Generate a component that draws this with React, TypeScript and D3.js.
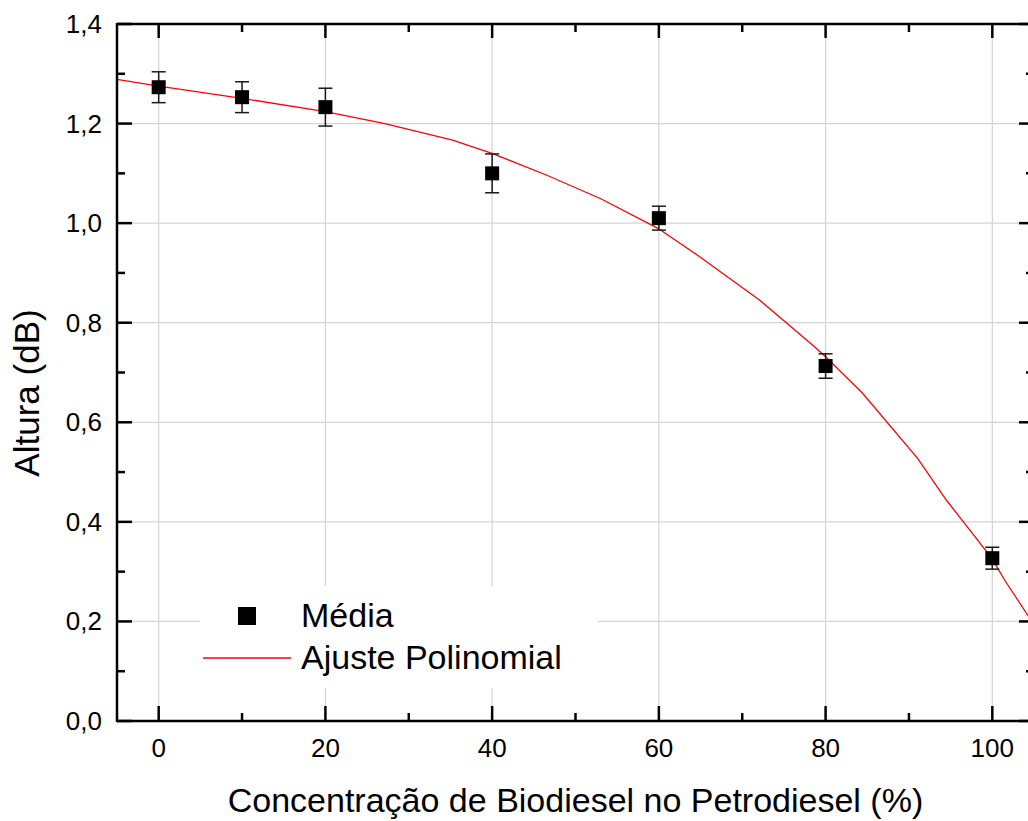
import React from "react";
import * as d3 from "d3";

const concX = [0, 10, 20, 40, 60, 80, 100];
const mediaY = [1.273, 1.253, 1.233, 1.1, 1.01, 0.713, 0.327];
const mediaErr = [0.031, 0.031, 0.038, 0.039, 0.024, 0.0245, 0.022];

const fitX = [-5.04, 0, 10, 20, 27, 35.26, 39.98, 46.5, 53.1, 59.89, 64.9, 72.07, 78.43, 80, 84.44, 91.04, 94.48, 99.95, 101.47, 104.23, 106];
const fitY = [1.2889, 1.2754, 1.2507, 1.2238, 1.2005, 1.1669, 1.1403, 1.0967, 1.0485, 0.9896, 0.9326, 0.8456, 0.7552, 0.7317, 0.6582, 0.5277, 0.4439, 0.3268, 0.2832, 0.2129, 0.168];

const xMajor = [0, 20, 40, 60, 80, 100];
const xMinor = [10, 30, 50, 70, 90];
const yMajor = [0, 0.2, 0.4, 0.6, 0.8, 1.0, 1.2, 1.4];
const yMinor = [0.1, 0.3, 0.5, 0.7, 0.9, 1.1, 1.3];
const yGrid = [0.2, 0.4, 0.6, 0.8, 1.0, 1.2];

const xTitle = "Concentração de Biodiesel no Petrodiesel (%)";
const yTitle = "Altura (dB)";
const legendLabels = ["Média", "Ajuste Polinomial"];

const fmtY = (v: number) => v.toFixed(1).replace(".", ",");

export default function App() {
  const W = 1028, H = 821;
  const L = 117, R = 1034, T = 24, B = 721;
  const x = d3.scaleLinear().domain([-5, 105]).range([L, R]);
  const y = d3.scaleLinear().domain([0, 1.4]).range([B, T]);
  const font = "'Liberation Sans', Arial, sans-serif";
  const line = d3.line<number>().x((_, i) => x(fitX[i])).y((d) => y(d));
  const sq = 14;
  const cap = 7;
  const axisW = 2.5;

  return (
    <svg width={W} height={H} style={{ position: "absolute", left: 0, top: 0, background: "#fff" }} fontFamily={font}>
      <defs>
        <clipPath id="plot">
          <rect x={L} y={T} width={R - L} height={B - T} />
        </clipPath>
      </defs>
      <rect x={0} y={0} width={W} height={H} fill="#fff" />
      <g stroke="#d4d4d4" strokeWidth={1.2}>
        {xMajor.map((v) => (
          <line key={"gx" + v} x1={x(v)} x2={x(v)} y1={T} y2={B} />
        ))}
        {yGrid.map((v) => (
          <line key={"gy" + v} x1={L} x2={R} y1={y(v)} y2={y(v)} />
        ))}
      </g>
      <rect x={200} y={586} width={398} height={102} fill="#fff" />
      <path d={line(fitY) || ""} fill="none" stroke="#ff0000" strokeWidth={1.3} clipPath="url(#plot)" />
      <g stroke="#1a1a1a" strokeWidth={1.5}>
        {concX.map((cx, i) => {
          const px = x(cx);
          const top = y(mediaY[i] + mediaErr[i]);
          const bot = y(mediaY[i] - mediaErr[i]);
          return (
            <g key={"e" + i}>
              <line x1={px} x2={px} y1={top} y2={bot} />
              <line x1={px - cap} x2={px + cap} y1={top} y2={top} />
              <line x1={px - cap} x2={px + cap} y1={bot} y2={bot} />
            </g>
          );
        })}
      </g>
      {concX.map((cx, i) => (
        <rect key={"m" + i} x={x(cx) - sq / 2} y={y(mediaY[i]) - sq / 2} width={sq} height={sq} fill="#000" />
      ))}
      <g stroke="#000" strokeWidth={axisW} fill="none">
        <line x1={L} x2={R + 1} y1={B} y2={B} />
        <line x1={L} x2={R + 1} y1={T} y2={T} />
        <line x1={L} x2={L} y1={T - 1} y2={B + 1} />
        <line x1={R} x2={R} y1={T - 1} y2={B + 1} />
        {xMajor.map((v) => (
          <g key={"xt" + v}>
            <line x1={x(v)} x2={x(v)} y1={B} y2={B - 15} />
            <line x1={x(v)} x2={x(v)} y1={T} y2={T + 14} />
          </g>
        ))}
        {xMinor.map((v) => (
          <g key={"xm" + v}>
            <line x1={x(v)} x2={x(v)} y1={B} y2={B - 8} />
            <line x1={x(v)} x2={x(v)} y1={T} y2={T + 8} />
          </g>
        ))}
        {yMajor.map((v) => (
          <g key={"yt" + v}>
            <line x1={L} x2={L + 15} y1={y(v)} y2={y(v)} />
            <line x1={R} x2={R - 15} y1={y(v)} y2={y(v)} />
          </g>
        ))}
        {yMinor.map((v) => (
          <g key={"ym" + v}>
            <line x1={L} x2={L + 8} y1={y(v)} y2={y(v)} />
            <line x1={R} x2={R - 8} y1={y(v)} y2={y(v)} />
          </g>
        ))}
      </g>
      <g fontSize={26} fill="#000">
        {xMajor.map((v) => (
          <text key={"xl" + v} x={x(v)} y={B + 36} textAnchor="middle">
            {String(v)}
          </text>
        ))}
        {yMajor.map((v) => (
          <text key={"yl" + v} x={L - 15} y={y(v) + 9} textAnchor="end">
            {fmtY(v)}
          </text>
        ))}
      </g>
      <text x={(L + R) / 2} y={812} textAnchor="middle" fontSize={34}>
        {xTitle}
      </text>
      <text transform={`translate(39, 393) rotate(-90)`} textAnchor="middle" fontSize={35}>
        {yTitle}
      </text>
      <rect x={247 - 9} y={616 - 9} width={18} height={18} fill="#000" />
      <line x1={203} x2={291} y1={658} y2={658} stroke="#ff0000" strokeWidth={1.3} />
      <text x={301} y={627} fontSize={34}>
        {legendLabels[0]}
      </text>
      <text x={301} y={669} fontSize={34}>
        {legendLabels[1]}
      </text>
    </svg>
  );
}
